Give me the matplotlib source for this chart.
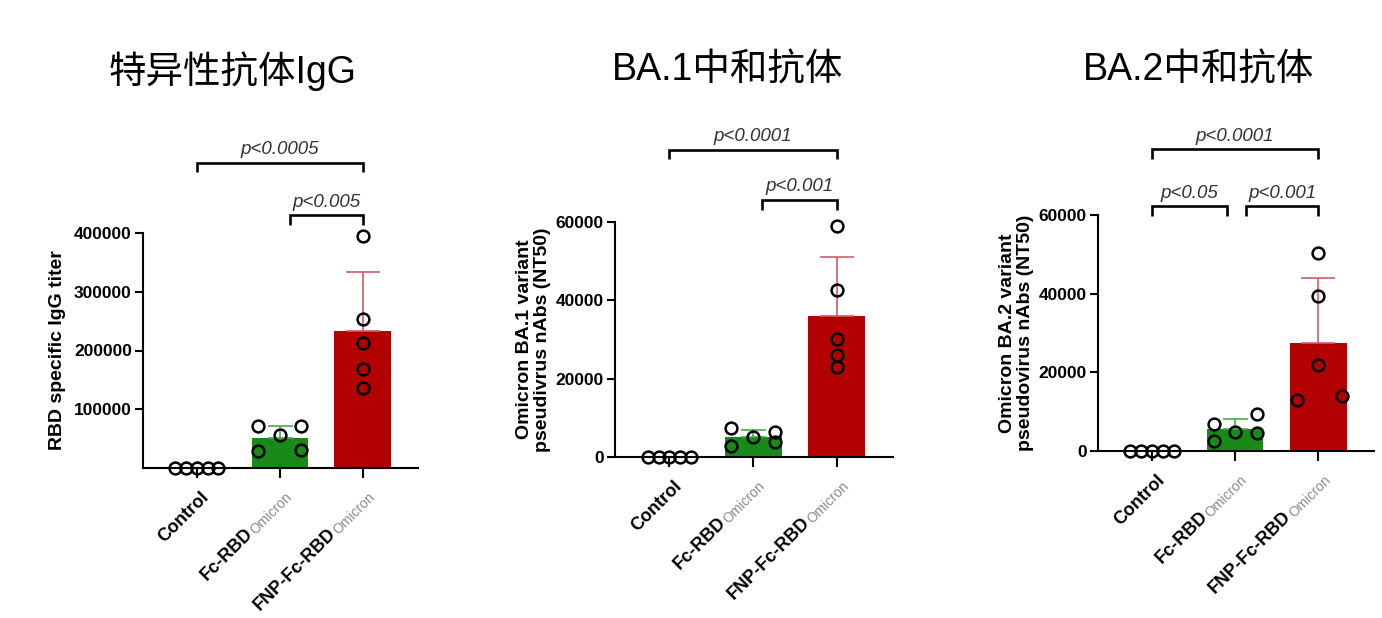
import matplotlib
matplotlib.use('Agg')
import matplotlib.pyplot as plt
import matplotlib.transforms as mtransforms
from matplotlib.font_manager import FontProperties
import numpy as np

plt.rcParams['font.family'] = ['Liberation Sans', 'DejaVu Sans']

# ---- data ----
groups = ['Control', 'Fc-RBD', 'FNP-Fc-RBD']
group_sub = ['', 'Omicron', 'Omicron']

titles = ['特异性抗体IgG', 'BA.1中和抗体', 'BA.2中和抗体']
ylabels = ['RBD specific IgG titer',
           'Omicron BA.1 variant\npseudivrus nAbs (NT50)',
           'Omicron BA.2 variant\npseudovirus nAbs (NT50)']

igg_mean = [0, 51600, 233000]
igg_err = [0, 19900, 101000]
igg_points = [[0, 0, 0, 0, 0],
              [71500, 29500, 56000, 71000, 30000],
              [395000, 253600, 212700, 168500, 136000]]

ba1_mean = [0, 5000, 36100]
ba1_err = [0, 1950, 15000]
ba1_points = [[0, 0, 0, 0, 0],
              [7390, 2700, 5000, 6270, 3720],
              [58900, 42600, 30060, 26060, 23080]]

ba2_mean = [0, 5500, 27500]
ba2_err = [0, 2750, 16500]
ba2_points = [[0, 0, 0, 0, 0],
              [6800, 2470, 4840, 9520, 4580],
              [50230, 39360, 21800, 12900, 13920]]

igg_ticks = [100000, 200000, 300000, 400000]
nab_ticks = [0, 20000, 40000, 60000]

# brackets: (x1, x2, y, y_leg_end, label)
igg_brackets = [(0, 2, 520000, 503000, 'p<0.0005'),
                (1.12, 2, 430600, 413600, 'p<0.005')]
ba1_brackets = [(0, 2, 78470, 76180, 'p<0.0001'),
                (1.1, 2, 65730, 63180, 'p<0.001')]
ba2_brackets = [(0, 2, 76700, 74150, 'p<0.0001'),
                (0, 0.9, 62260, 59720, 'p<0.05'),
                (1.13, 2, 62260, 59720, 'p<0.001')]

# ---- layout / style ----
jitter = [[-0.26, -0.13, 0, 0.13, 0.26],
          [-0.26, -0.26, 0, 0.26, 0.26]]
fnp_jitter = [[0, 0, 0, 0, 0], [0, 0, 0, 0, 0], [0, 0, 0, -0.26, 0.28]]
bar_colors = ['white', '#178a17', '#b30000']
err_colors = ['white', '#4aa84a', '#d45a6a']
capsizes = [0, 9, 12]

W, H = 1382, 618
axes_px = [(143, 233, 418, 468), (615, 222, 893, 457), (1098, 215, 1374, 451)]
title_px = [(232, 71), (728, 71), (1199, 71)]
ylabel_pads = [6, 3, 3]

panels = [
    (igg_mean, igg_err, igg_points, igg_ticks, (0, 400000), igg_brackets),
    (ba1_mean, ba1_err, ba1_points, nab_ticks, (0, 60000), ba1_brackets),
    (ba2_mean, ba2_err, ba2_points, nab_ticks, (0, 60000), ba2_brackets),
]

fig = plt.figure(figsize=(W / 100, H / 100), dpi=100)
renderer = fig.canvas.get_renderer()
c45 = np.cos(np.radians(45))
sub_size = 10

for k, (means, errs, points, yticks, ylim, brackets) in enumerate(panels):
    x0, y0, x1, y1 = axes_px[k]
    ax = fig.add_axes([x0 / W, 1 - y1 / H, (x1 - x0) / W, (y1 - y0) / H])
    xs = np.arange(len(groups))

    ax.bar(xs[1:], means[1:], width=0.68, color=bar_colors[1:], zorder=2)
    for i in range(1, 3):
        ax.errorbar(xs[i], means[i], yerr=[[0], [errs[i]]], fmt='none',
                    ecolor=err_colors[i], elinewidth=1.2, capsize=capsizes[i],
                    capthick=1.2, zorder=3)
    offs = [jitter[0], jitter[1], fnp_jitter[k]]
    for i in range(3):
        ax.plot(xs[i] + np.array(offs[i]), points[i], 'o', ms=8.5, mfc='none',
                mec='black', mew=1.8, clip_on=False, zorder=4)

    ax.set_xlim(-0.65, 2.67)
    ax.set_ylim(*ylim)
    ax.set_yticks(yticks)
    ax.set_yticklabels([str(t) for t in yticks], fontsize=12.5, fontweight='bold')
    ax.set_xticks(xs)
    ax.set_xticklabels([])
    ax.spines['top'].set_visible(False)
    ax.spines['right'].set_visible(False)
    for sp in ('left', 'bottom'):
        ax.spines[sp].set_linewidth(1.5)
    ax.tick_params(axis='y', direction='out', length=6, width=1.5, pad=2)
    ax.tick_params(axis='x', direction='out', length=7, width=1.5)
    ax.set_ylabel(ylabels[k], fontsize=14, fontweight='bold',
                  labelpad=ylabel_pads[k], linespacing=1.1)

    # significance brackets
    for bx1, bx2, by, bleg, lab in brackets:
        ax.plot([bx1, bx1, bx2, bx2], [bleg, by, by, bleg], color='black', lw=1.9,
                clip_on=False, solid_joinstyle='miter', solid_capstyle='butt')
        ax.text((bx1 + bx2) / 2, by + (ylim[1] * 0.055), lab, ha='center',
                va='center', fontsize=13.5, style='italic', color='#333333',
                clip_on=False)

    # rotated category labels with grey subscript
    base = mtransforms.blended_transform_factory(ax.transData, ax.transAxes)
    for i, (name, sub) in enumerate(zip(groups, group_sub)):
        bx, by = 13, -30
        if sub:
            w, _, _ = renderer.get_text_width_height_descent(
                sub, FontProperties(family='Liberation Sans', size=sub_size),
                ismath=False)
            ax.text(i, 0, sub, rotation=45, rotation_mode='anchor', ha='right',
                    va='baseline', fontsize=sub_size, color='#8a8a8a',
                    transform=mtransforms.offset_copy(base, fig=fig, x=bx, y=by,
                                                      units='dots'))
            mx = bx - (w + 1) * c45 - 2 * c45
            my = by - (w + 1) * c45 + 2 * c45
        else:
            mx, my = bx, by
        ax.text(i, 0, name, rotation=45, rotation_mode='anchor', ha='right',
                va='baseline', fontsize=13, fontweight='bold',
                transform=mtransforms.offset_copy(base, fig=fig, x=mx, y=my,
                                                  units='dots'))

    tx, ty = title_px[k]
    fig.text(tx / W, 1 - ty / H, titles[k], ha='center', va='center', fontsize=27,
             family=['Liberation Sans', 'Noto Sans CJK SC'])

fig.savefig('out.png', dpi=100)
